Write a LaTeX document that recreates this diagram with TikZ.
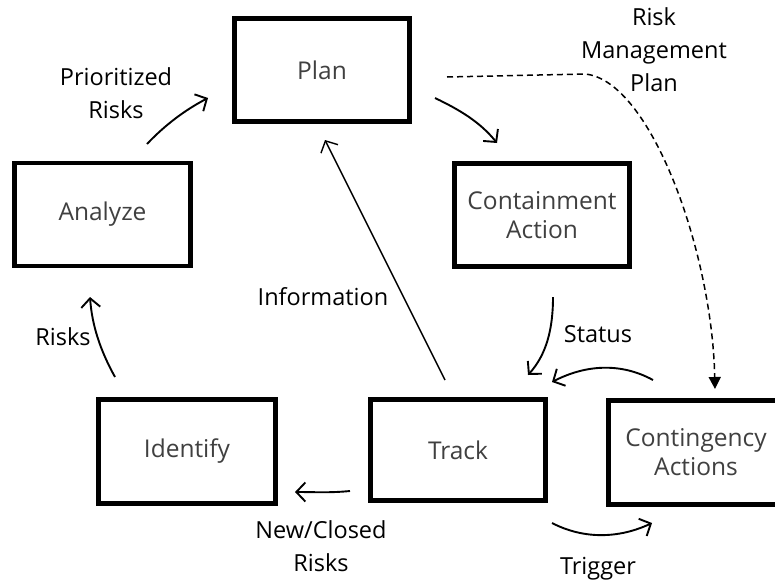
\documentclass[tikz,border=0pt]{standalone}
\usepackage{fontspec}
\setmainfont{Open Sans}
\usetikzlibrary{arrows.meta}
\definecolor{boxtext}{HTML}{404040}
\tikzset{
  box/.style={draw=black, line width=4.6pt, rectangle, minimum width=175pt, minimum height=103pt,
    inner sep=0pt, align=center, text=boxtext, font=\fontsize{24.5}{29}\selectfont},
  lbl/.style={align=center, text=black, font=\fontsize{23.5}{33}\selectfont, inner sep=0pt},
  flow/.style={line width=1.9pt, -{Straight Barb[length=9pt,width=19pt,line width=1.9pt]}},
  dashflow/.style={line width=1.5pt, dash pattern=on 6pt off 4pt, -{Triangle[length=12pt,width=12pt]}}
}
\begin{document}
\begin{tikzpicture}[x=1pt,y=-1pt]
\useasboundingbox (0,0) rectangle (775,581);
\clip (0,0) rectangle (775,581);
\fill[white] (0,0) rectangle (775,581);
% boxes
\node[box] (plan) at (322,70) {Plan};
\node[box, minimum width=176pt] (ana) at (102.5,214.5) {Analyze};
\node[box] (cont) at (542,215) {Containment\\Action};
\node[box, minimum width=177pt, minimum height=104pt] (iden) at (187,451.5) {Identify};
\node[box, minimum height=101pt] (track) at (458,450) {Track};
\node[box, minimum height=104pt] (conti) at (696,452.5) {Contingency\\Actions};
% labels
\node[lbl] (lprio) at (116,93) {Prioritized\\Risks};
\node[lbl] (lrmp) at (654,50) {Risk\\Management\\Plan};
\node[lbl] (linfo) at (323,297) {Information};
\node[lbl] (lrisks) at (63,337) {Risks};
\node[lbl] (lstat) at (598,334) {Status};
\node[lbl] (lnew) at (321,546.5) {New/Closed\\Risks};
\node[lbl] (ltrig) at (598,569) {Trigger};
% connector end points
\coordinate (a1) at (147,144); \coordinate (a2) at (208,98);
\coordinate (p1) at (435,98);  \coordinate (p2) at (497,143);
\coordinate (d1) at (447,77);  \coordinate (d2) at (585,74); \coordinate (d3) at (715,389);
\coordinate (c1) at (553,297); \coordinate (c2) at (528,375);
\coordinate (s1) at (653,380); \coordinate (s2) at (552,382);
\coordinate (t1) at (445,380); \coordinate (t2) at (325,140);
\coordinate (i1) at (115,377); \coordinate (i2) at (90,297);
\coordinate (n1) at (350,491); \coordinate (n2) at (295,492);
\coordinate (g1) at (552,523); \coordinate (g2) at (652,523);
% connectors
\draw[flow] (a1) .. controls (165,125) and (185,110) .. (a2);
\draw[flow] (p1) .. controls (460,110) and (480,122) .. (p2);
\draw[dashflow] (d1) -- (d2) .. controls (650,80) and (712,250) .. (d3);
\draw[flow] (c1) .. controls (553,330) and (546,355) .. (c2);
\draw[flow] (s1) .. controls (620,362) and (585,365) .. (s2);
\draw[line width=1.4pt, -{Straight Barb[length=9pt,width=19pt,line width=1.4pt]}] (t1) -- (t2);
\draw[flow] (i1) .. controls (100,350) and (92,325) .. (i2);
\draw[flow] (n1) .. controls (330,493) and (315,492) .. (n2);
\draw[flow] (g1) .. controls (585,540) and (620,538) .. (g2);
\end{tikzpicture}
\end{document}
